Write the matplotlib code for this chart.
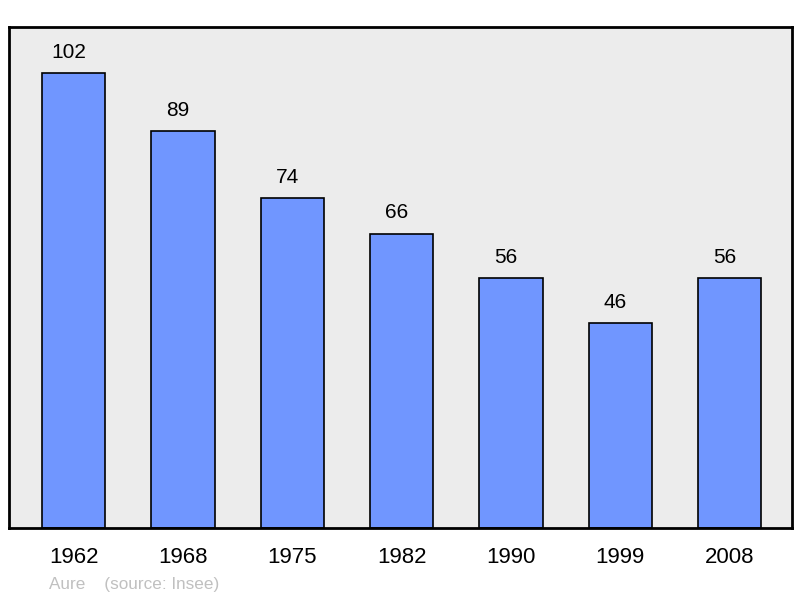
import matplotlib.pyplot as plt

plt.rcParams['font.family'] = ['Liberation Sans', 'DejaVu Sans']

years = ['1962', '1968', '1975', '1982', '1990', '1999', '2008']
population = [102, 89, 74, 66, 56, 46, 56]

fig = plt.figure(figsize=(8, 5.98), dpi=100)
ax = fig.add_axes([9 / 800, 70 / 598, 783 / 800, 501 / 598])
ax.set_facecolor('#ececec')

x = range(len(years))
bars = ax.bar(x, population, width=0.58, color='#7096ff', edgecolor='black', linewidth=1.2)
for b, v in zip(bars, population):
    ax.annotate(str(v), (b.get_x() + b.get_width() / 2, v), xytext=(-3.5, 8),
                textcoords='offset points', ha='center', va='bottom', fontsize=15)

ax.set_xlim(-0.59, 6.57)
ax.set_ylim(0, 112.3)
ax.set_xticks(list(x))
ax.set_xticklabels(years, fontsize=16)
ax.tick_params(axis='x', length=0, pad=14)
ax.set_yticks([])
for s in ax.spines.values():
    s.set_linewidth(2)

fig.text(49 / 800, 1 - 584 / 598, 'Aure    (source: Insee)', color='#c0c0c0',
         fontsize=12.3, va='center', ha='left')

fig.savefig('out.png', dpi=100)
